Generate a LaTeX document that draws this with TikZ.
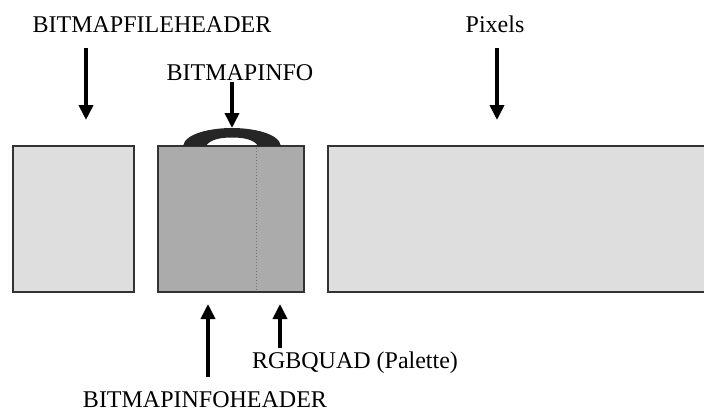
\documentclass[tikz,border=0pt]{standalone}
\usepackage{fontspec}
\setmainfont{Liberation Serif}
\usetikzlibrary{arrows.meta}
\begin{document}
\begin{tikzpicture}[x=1pt,y=-1pt,
  lbl/.style={inner sep=0pt,font=\fontsize{24}{27}\selectfont,anchor=center},
  blk/.style={draw=black!80,line width=1.7pt},
  fat/.style={line width=3.6pt,-{Triangle[length=15pt,width=14pt]}}]
\useasboundingbox (0,0) rectangle (704,415);
\clip (0,0) rectangle (704,415);
% boxes
\draw[blk,fill=black!13] (13,146) rectangle (134,292);
\draw[blk,fill=black!33] (158,146) rectangle (304,292);
\draw[blk,fill=black!13] (328,146) rectangle (720,292);
\draw[black!55,line width=1pt,dotted] (256,148) -- (256,291);
% arch
\fill[black!85] (183,146) .. controls (185,133) and (212,128) .. (232,128)
  .. controls (252,128) and (279,133) .. (281,146) -- (258,146)
  .. controls (254,139) and (242,137.5) .. (232,137.5)
  .. controls (222,137.5) and (210,139) .. (206,146) -- cycle;
% labels
\node[lbl] (fh) at (152,25) {BITMAPFILEHEADER};
\node[lbl] (bi) at (240,73) {BITMAPINFO};
\node[lbl] (px) at (495,24) {Pixels};
\node[lbl] (bih) at (205,400) {BITMAPINFOHEADER};
\node[lbl] (rgb) at (355,363) {RGBQUAD (Palette)};
% arrow endpoints
\coordinate (a1s) at (86,48);  \coordinate (a1e) at (86,120);
\coordinate (a2s) at (232,82); \coordinate (a2e) at (232,128);
\coordinate (a3s) at (497,48); \coordinate (a3e) at (497,120);
\coordinate (a4s) at (208,377); \coordinate (a4e) at (208,304);
\coordinate (a5s) at (280,348); \coordinate (a5e) at (280,304);
\draw[fat] (a1s) -- (a1e);
\draw[fat] (a2s) -- (a2e);
\draw[fat] (a3s) -- (a3e);
\draw[fat] (a4s) -- (a4e);
\draw[fat] (a5s) -- (a5e);
\end{tikzpicture}
\end{document}
